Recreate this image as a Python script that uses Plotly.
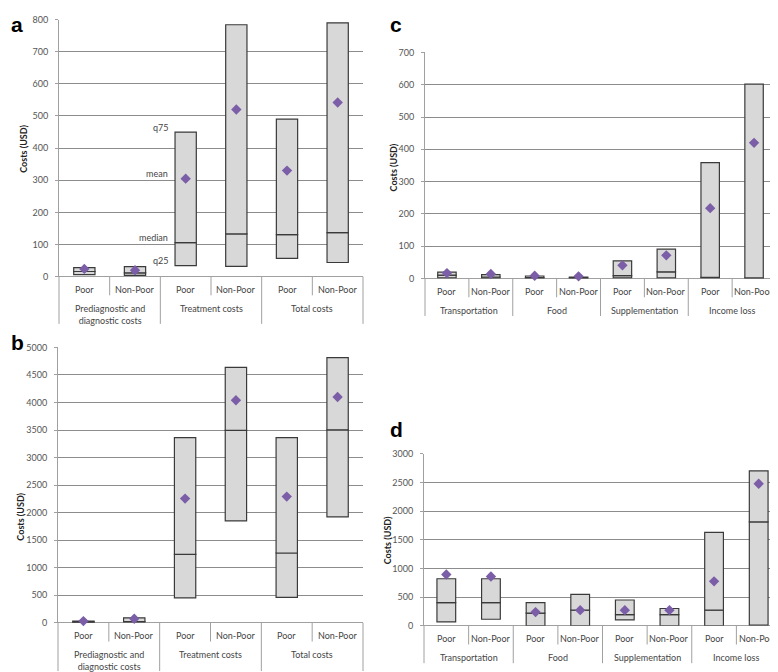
import plotly.graph_objects as go

W, H = 778, 672

cats2 = ["Poor", "Non-Poor"]

# ---- Panel a: direct costs (USD) ----
a_groups = ["Prediagnostic and<br>diagnostic costs", "Treatment costs", "Total costs"]
a_q25 = [6, 4, 34, 32, 57, 44]
a_median = [16, 12, 106, 133, 131, 137]
a_q75 = [28, 31, 450, 784, 490, 790]
a_mean = [24, 20, 305, 520, 330, 542]
a_ticks = [0, 100, 200, 300, 400, 500, 600, 700, 800]

# ---- Panel b ----
b_groups = ["Prediagnostic and<br>diagnostic costs", "Treatment costs", "Total costs"]
b_q25 = [8, 12, 452, 1851, 464, 1923]
b_median = [18, 25, 1244, 3495, 1268, 3505]
b_q75 = [30, 92, 3363, 4637, 3363, 4816]
b_mean = [32, 75, 2256, 4041, 2292, 4101]
b_ticks = [0, 500, 1000, 1500, 2000, 2500, 3000, 3500, 4000, 4500, 5000]

# ---- Panel c: indirect costs ----
c_groups = ["Transportation", "Food", "Supplementation", "Income loss"]
c_q25 = [2, 1, 1, 1, 2, 2, 2, 1]
c_median = [11, 5, 3, 2, 9, 21, 4, 2]
c_q75 = [20, 12, 8, 5, 55, 91, 359, 602]
c_mean = [17, 14, 9, 7, 41, 72, 218, 420]
c_ticks = [0, 100, 200, 300, 400, 500, 600, 700]

# ---- Panel d ----
d_groups = ["Transportation", "Food", "Supplementation", "Income loss"]
d_q25 = [68, 114, 0, 0, 103, 0, 0, 11]
d_median = [404, 404, 222, 273, 194, 194, 273, 1811]
d_q75 = [820, 820, 404, 547, 450, 302, 1629, 2699]
d_mean = [894, 860, 239, 273, 273, 273, 775, 2477]
d_ticks = [0, 500, 1000, 1500, 2000, 2500, 3000]

stat_labels = ["q75", "mean", "median", "q25"]

FILL = "#d8d8d8"
EDGE = "#3a3a3a"
PURPLE = "#7b5ea7"
GRID = "#8c8c8c"
AXC = "#a0a0a0"
TXT = "#454545"
FONT = "Lato"
FS = 9

# pixel geometry of each panel (left, right, top, bottom of plot area)
panels = [
    dict(k=1, letter="a", groups=a_groups, q25=a_q25, med=a_median, q75=a_q75, mean=a_mean,
         ticks=a_ticks, box=(51, 355, 5.7, 267), ytitle=(16, 137), lpos=(1, -3),
         long_len=48),
    dict(k=2, letter="b", groups=b_groups, q25=b_q25, med=b_median, q75=b_q75, mean=b_mean,
         ticks=b_ticks, box=(50, 355, 339, 619), ytitle=(13, 511), lpos=(1, 320),
         long_len=49),
    dict(k=3, letter="c", groups=c_groups, q25=c_q25, med=c_median, q75=c_q75, mean=c_mean,
         ticks=c_ticks, box=(417, 768, 39, 269), ytitle=(385, 156), lpos=(380, -3),
         long_len=38),
    dict(k=4, letter="d", groups=d_groups, q25=d_q25, med=d_median, q75=d_q75, mean=d_mean,
         ticks=d_ticks, box=(416, 773, 447, 622), ytitle=(379, 535), lpos=(380, 409),
         long_len=38),
]

fig = go.Figure()
shapes = []
annotations = []


def px_x(p):
    return p / W


def px_y(p):
    return 1 - p / H


for P in panels:
    k = P["k"]
    suffix = "" if k == 1 else str(k)
    xa, ya = "x" + suffix, "y" + suffix
    keys = [f"{g}|{c}" for g in P["groups"] for c in cats2]
    n = len(keys)
    lower = [m - q for m, q in zip(P["med"], P["q25"])]
    upper = [q - m for q, m in zip(P["q75"], P["med"])]
    for base, height in ((P["q25"], lower), (P["med"], upper)):
        fig.add_trace(go.Bar(
            x=keys, y=height, base=base, width=0.42,
            marker=dict(color=FILL, line=dict(color=EDGE, width=1.2)),
            xaxis=xa, yaxis=ya, showlegend=False, hoverinfo="skip"))
    fig.add_trace(go.Scatter(
        x=keys, y=P["mean"], mode="markers",
        marker=dict(symbol="diamond", size=8, color=PURPLE),
        xaxis=xa, yaxis=ya, showlegend=False, cliponaxis=False, hoverinfo="skip"))

    L, R, T, B = P["box"]
    fig.layout["xaxis" + suffix] = dict(
        domain=[px_x(L), px_x(R)], anchor=ya, type="category",
        categoryorder="array", categoryarray=keys,
        range=[-0.5, n - 0.5], showticklabels=False, showgrid=False,
        zeroline=False, showline=False, ticks="", fixedrange=True)
    fig.layout["yaxis" + suffix] = dict(
        domain=[px_y(B), px_y(T)], anchor=xa,
        range=[0, P["ticks"][-1]], tickvals=P["ticks"],
        showgrid=True, gridcolor=GRID, gridwidth=1,
        zeroline=True, zerolinecolor=AXC, zerolinewidth=1,
        showline=True, linecolor=AXC, linewidth=1,
        ticks="outside", ticklen=3, tickcolor=AXC,
        ticklabelstandoff=5,
        tickfont=dict(family=FONT, size=FS, color="#555555"), fixedrange=True)

    # category dividers
    for i in range(n + 1):
        is_long = (i % 2 == 0)
        ln = P["long_len"] if is_long else 19
        shapes.append(dict(
            type="line", xref=xa + " domain", yref="paper",
            x0=i / n, x1=i / n, y0=px_y(B), y1=px_y(B + ln),
            line=dict(color=AXC, width=1)))
    # category labels
    for i, key in enumerate(keys):
        annotations.append(dict(
            x=key, xref=xa, y=px_y(B + 13), yref="paper",
            text=cats2[i % 2], showarrow=False, xanchor="center", yanchor="middle",
            font=dict(family=FONT, size=FS, color=TXT)))
    # group labels
    for gi, g in enumerate(P["groups"]):
        annotations.append(dict(
            x=(2 * gi + 1) / n, xref=xa + " domain", y=px_y(B + 25), yref="paper",
            text=g, showarrow=False, xanchor="center", yanchor="top",
            font=dict(family=FONT, size=FS, color=TXT)))
    # y title
    tx, ty = P["ytitle"]
    annotations.append(dict(
        x=px_x(tx), y=px_y(ty), xref="paper", yref="paper", text="<b>Costs (USD)</b>",
        textangle=-90, showarrow=False, xanchor="center", yanchor="middle",
        font=dict(family=FONT, size=9, color="#222222")))
    # panel letter
    lx, ly = P["lpos"]
    annotations.append(dict(
        x=px_x(lx), y=px_y(ly), xref="paper", yref="paper", text=f"<b>{P['letter']}</b>",
        showarrow=False, xanchor="left", yanchor="top",
        font=dict(family="Liberation Sans", size=21, color="#000000")))

# stat labels next to Treatment / Poor bar in panel a
ref_key = f"{a_groups[1]}|{cats2[0]}"
ref_i = 2
for lab, val in zip(stat_labels, [a_q75[ref_i], a_mean[ref_i], a_median[ref_i], a_q25[ref_i]]):
    annotations.append(dict(
        x=ref_key, xref="x", y=val, yref="y", text=lab, showarrow=False,
        xanchor="right", yanchor="middle", xshift=-16, yshift=5,
        font=dict(family=FONT, size=FS, color=TXT)))

fig.update_layout(
    width=W, height=H, margin=dict(l=0, r=0, t=0, b=0),
    paper_bgcolor="white", plot_bgcolor="white",
    barmode="overlay", shapes=shapes, annotations=annotations,
    font=dict(family=FONT))

fig.write_html("out.html")
